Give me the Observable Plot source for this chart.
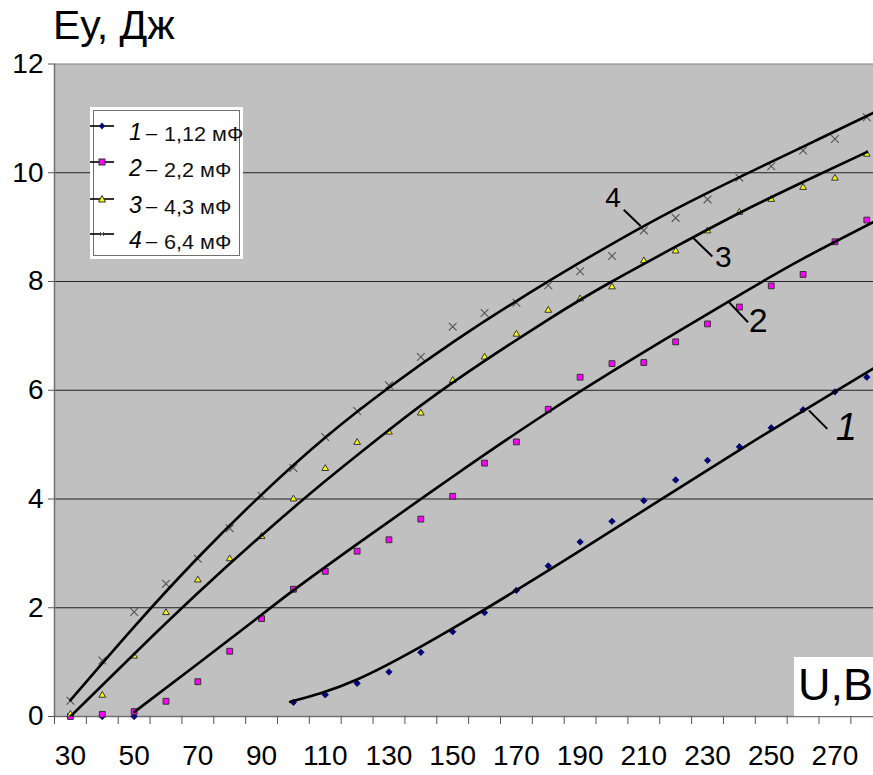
<!DOCTYPE html>
<html><head><meta charset="utf-8">
<script src="https://cdn.jsdelivr.net/npm/d3@7"></script>
<script src="https://cdn.jsdelivr.net/npm/@observablehq/plot@0.6"></script>
<style>
body{margin:0;background:#fff;font-family:"Liberation Sans",Arial,sans-serif;}
#wrap{position:relative;width:873px;height:775px;overflow:hidden;background:#fff}
#wrap svg{position:absolute;left:0;top:0}
.title{position:absolute;left:53px;top:5px;font-size:41px;line-height:1;color:#000;white-space:nowrap}
.ulab{position:absolute;left:794px;top:657px;width:79px;height:59px;background:#fff}
.ulab span{position:absolute;left:4px;top:5px;font-size:45px;line-height:1;color:#000}
.legend{position:absolute;left:90px;top:107px;width:153px;height:152px;background:#fff}
.legend .box{position:absolute;left:3px;top:3px;width:145px;height:144px;border:1px solid #707070}
.row{position:absolute;left:0;height:24px;width:150px}
.row svg{position:absolute;left:9px;top:8px}
.row .n{position:absolute;left:39px;top:0px;font-size:23px;font-style:italic;line-height:1}
.row .d{position:absolute;left:56px;top:2px;font-size:20px;line-height:1}
.row .t{position:absolute;left:74px;top:3px;font-size:20px;line-height:1;color:#111;display:inline-block;transform:scaleX(1.08);transform-origin:left center}
</style></head><body><div id="wrap"></div>
<script>
// ---- measured points (U in V, energy in J) ----
const s1U = [30,40,50,100,110,120,130,140,150,160,170,180,190,200,210,220,230,240,250,260,270,280];
const s1V = [0,0,0,0.26,0.40,0.61,0.82,1.18,1.56,1.91,2.32,2.77,3.21,3.59,3.97,4.35,4.71,4.96,5.31,5.64,5.97,6.24];
const sU = [30,40,50,60,70,80,90,100,110,120,130,140,150,160,170,180,190,200,210,220,230,240,250,260,270,280];
const s2V = [0.0,0.04,0.09,0.28,0.64,1.20,1.80,2.34,2.67,3.04,3.25,3.63,4.05,4.66,5.05,5.65,6.24,6.49,6.51,6.89,7.22,7.53,7.92,8.13,8.73,9.13];
const s3V = [0.04,0.39,1.11,1.91,2.51,2.90,3.31,4.00,4.56,5.04,5.23,5.58,6.18,6.61,7.03,7.47,7.68,7.90,8.38,8.56,8.93,9.27,9.51,9.73,9.90,10.34];
const s4V = [0.29,1.03,1.92,2.44,2.90,3.46,4.06,4.57,5.14,5.62,6.09,6.61,7.17,7.42,7.61,7.93,8.19,8.47,8.94,9.17,9.51,9.91,10.12,10.41,10.62,11.02];

// ---- trend lines ----
const c1U = [99,120,150,190,240,282];
const c1V = [0.27,0.68,1.62,3.05,4.9,6.40];
const c2U = [50,70,90,100,120,150,180,210,240,260,283];
const c2V = [0.08,0.97,1.87,2.32,3.17,4.41,5.6,6.7,7.75,8.42,9.12];
const c3U = [30,50,70,90,110,130,150,180,200,220,240,260,280];
const c3V = [0.0,1.15,2.27,3.33,4.33,5.27,6.14,7.30,8.0,8.64,9.26,9.83,10.38];
const c4U = [30,50,70,90,110,130,150,170,190,210,230,250,265,282];
const c4V = [0.30,1.65,2.92,4.08,5.13,6.05,6.88,7.64,8.35,9.02,9.63,10.2,10.62,11.1];

// ---- axis ticks ----
const yTicks = [0,2,4,6,8,10,12];
const yGrid = [2,4,6,8,10];
const xTickLabels = [30,50,70,90,110,130,150,170,190,210,230,250,270];
const xTickMarks = [25,35,45,55,65,75,85,95,105,115,125,135,145,155,165,175,185,195,205,215,225,235,245,255,265,275];

// ---- curve labels ----
const labNames = ["1","2","3","4"];
const labU = [273.6,245.9,235.0,200.3];
const labV = [5.31,7.27,8.45,9.53];
const labSize = [38,34,30,28];
const leadU1 = [261.8,236.7,225.2,203.7];
const leadV1 = [5.63,7.62,8.82,9.32];
const leadU2 = [267.6,242.7,231.5,209.0];
const leadV2 = [5.29,7.25,8.46,9.02];

const legNames = ["1","2","3","4"];
const legTexts = ["1,12 мФ","2,2 мФ","4,3 мФ","6,4 мФ"];

const zip = (u, v) => u.map((x, i) => ({U: x, v: v[i]}));
const d1 = zip(s1U, s1V), d2 = zip(sU, s2V), d3 = zip(sU, s3V), d4 = zip(sU, s4V);
const t1 = zip(c1U, c1V), t2 = zip(c2U, c2V), t3 = zip(c3U, c3V), t4 = zip(c4U, c4V);
const labs = labNames.map((n, i) => ({n, U: labU[i], v: labV[i], s: labSize[i], u1: leadU1[i], v1: leadV1[i], u2: leadU2[i], v2: leadV2[i]}));

const font = '"Liberation Sans", Arial, sans-serif';
const lineOpts = {x: "U", y: "v", curve: "natural", stroke: "#000", strokeWidth: 2.6, clip: true};

const chart = Plot.plot({
  width: 873, height: 775,
  marginLeft: 54, marginRight: 0, marginTop: 63.5, marginBottom: 59,
  x: {domain: [25, 282.1]},
  y: {domain: [0, 12]},
  style: {background: "transparent", fontFamily: font, color: "#000"},
  marks: [
    Plot.frame({fill: "#c0c0c0", stroke: null}),
    Plot.ruleY(yGrid, {stroke: "#222", strokeWidth: 1.2}),
    Plot.ruleY([12], {stroke: "#808080", strokeWidth: 1.2}),
    Plot.ruleY([0], {stroke: "#707070", strokeWidth: 1.5}),
    Plot.ruleX([25], {stroke: "#707070", strokeWidth: 1.5}),
    Plot.axisY({ticks: yTicks, tickSize: 6, tickPadding: 5, fontSize: 28, stroke: "#555", label: null}),
    Plot.axisX({ticks: xTickMarks, tickSize: 8, tickFormat: () => "", stroke: "#555", label: null}),
    Plot.axisX({ticks: xTickLabels, tickSize: 0, tickPadding: 29, fontSize: 28, label: null}),
    Plot.dot(d1, {x: "U", y: "v", symbol: "diamond2", r: 2.9, fill: "#000080", stroke: "#000060", strokeWidth: 0.8}),
    Plot.dot(d2, {x: "U", y: "v", symbol: "square2", r: 3.7, fill: "#ff00ff", stroke: "#333", strokeWidth: 1}),
    Plot.dot(d3, {x: "U", y: "v", symbol: "triangle2", r: 3.2, fill: "#ffff00", stroke: "#333", strokeWidth: 1}),
    Plot.dot(d4, {x: "U", y: "v", symbol: "times", r: 3.6, stroke: "#555", strokeWidth: 1.1}),
    Plot.line(t1, lineOpts),
    Plot.line(t2, lineOpts),
    Plot.line(t3, lineOpts),
    Plot.line(t4, lineOpts),
    Plot.link(labs, {x1: "u1", y1: "v1", x2: "u2", y2: "v2", stroke: "#000", strokeWidth: 2}),
    Plot.text(labs.filter(d => d.n === "1"), {x: "U", y: "v", text: "n", fontSize: "s", fontStyle: "italic", fill: "#000"}),
    Plot.text(labs.filter(d => d.n !== "1"), {x: "U", y: "v", text: "n", fontSize: "s", fill: "#000"})
  ]
});

const wrap = document.getElementById("wrap");
wrap.appendChild(chart);

const title = document.createElement("div");
title.className = "title";
title.textContent = "Еу, Дж";
wrap.appendChild(title);

const ul = document.createElement("div");
ul.className = "ulab";
ul.innerHTML = "<span>U,B</span>";
wrap.appendChild(ul);

// legend
const markerSvg = [
  '<line x1="0" y1="5" x2="24" y2="5" stroke="#000" stroke-width="1.6"/><path d="M12 1.5 L15 5 L12 8.5 L9 5 Z" fill="#000080"/>',
  '<line x1="0" y1="5" x2="24" y2="5" stroke="#000" stroke-width="1.6"/><rect x="9" y="2" width="6" height="6" fill="#ff00ff" stroke="#333" stroke-width="1"/>',
  '<line x1="0" y1="5" x2="24" y2="5" stroke="#000" stroke-width="1.6"/><path d="M12 1.5 L15.5 8 L8.5 8 Z" fill="#ffff00" stroke="#333" stroke-width="1"/>',
  '<line x1="0" y1="5" x2="24" y2="5" stroke="#000" stroke-width="1.6"/><path d="M10 3 L14 7 M14 3 L10 7" stroke="#666" stroke-width="1"/>'
];
const leg = document.createElement("div");
leg.className = "legend";
leg.innerHTML = '<div class="box"></div>';
const rowTops = [14, 50, 87, 122];
legNames.forEach((n, i) => {
  const r = document.createElement("div");
  r.className = "row";
  r.style.top = rowTops[i] + "px";
  r.innerHTML = `<svg width="24" height="10">${markerSvg[i]}</svg><span class="n">${n}</span><span class="d">–</span><span class="t">${legTexts[i]}</span>`;
  leg.appendChild(r);
});
wrap.appendChild(leg);
</script>
</body></html>
